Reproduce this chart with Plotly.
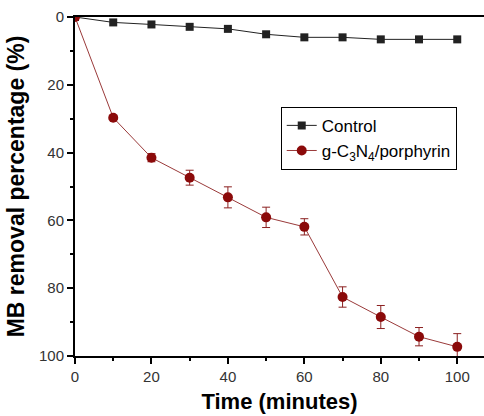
import plotly.graph_objects as go

time = [0, 10, 20, 30, 40, 50, 60, 70, 80, 90, 100]
control = [0, 1.6, 2.2, 2.9, 3.5, 5.1, 6.0, 6.0, 6.6, 6.6, 6.6]
gcn = [0, 29.7, 41.5, 47.4, 53.2, 59.1, 61.9, 82.6, 88.5, 94.3, 97.3]
gcn_err = [0, 0.5, 1.2, 2.2, 3.1, 3.0, 2.4, 3.0, 3.4, 2.7, 3.9]

fig = go.Figure()
fig.add_trace(go.Scatter(
    x=time, y=control, mode="lines+markers", name="Control",
    line=dict(color="#222222", width=1),
    marker=dict(symbol="square", size=8, color="#222222"),
))
fig.add_trace(go.Scatter(
    x=time, y=gcn, mode="lines+markers", name="g-C<sub>3</sub>N<sub>4</sub>/porphyrin",
    line=dict(color="#9a3a3a", width=1),
    marker=dict(symbol="circle", size=10, color="#8b0a0a"),
    error_y=dict(type="data", array=gcn_err, visible=True, color="#8b2020", thickness=1, width=4),
))

axis_common = dict(
    showline=True, linecolor="black", linewidth=2, showgrid=False, zeroline=False,
    ticks="outside", ticklen=6, tickwidth=2, tickcolor="black",
    tickfont=dict(family="Liberation Sans", size=15, color="#333333"),
    minor=dict(ticks="outside", ticklen=3, tickwidth=2, tickcolor="black", dtick=10),
)

fig.update_layout(
    width=484, height=416,
    margin=dict(l=75, r=0, t=17, b=60),
    plot_bgcolor="white", paper_bgcolor="white",
    xaxis=dict(range=[0, 107], tick0=0, dtick=20, mirror=True,
               title=dict(text="<b>Time (minutes)</b>", font=dict(family="Liberation Sans", size=22, color="black"), standoff=10),
               **axis_common),
    yaxis=dict(range=[100, 0], tick0=0, dtick=20,
               title=dict(text="<b>MB removal percentage (%)</b>", font=dict(family="Liberation Sans", size=23, color="black"), standoff=8),
               **axis_common),
    legend=dict(x=0.503, y=0.735, xanchor="left", yanchor="top",
                bordercolor="black", borderwidth=1, bgcolor="white",
                font=dict(family="Liberation Sans", size=17, color="black"),
                tracegroupgap=0, itemwidth=30),
    showlegend=True,
)

fig.write_html("out.html")
